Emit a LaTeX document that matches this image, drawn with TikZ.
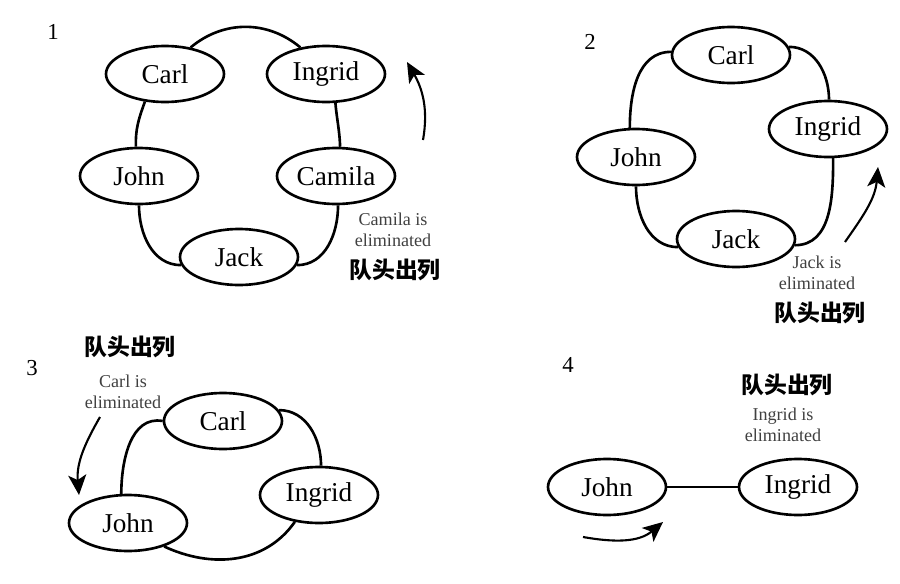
\documentclass[tikz,border=0pt]{standalone}
\usepackage{fontspec}
\setmainfont{Liberation Serif}
\newfontfamily\cjk{Noto Sans CJK SC}
\usetikzlibrary{shapes.geometric,arrows.meta}

\begin{document}
\begin{tikzpicture}[x=0.02cm, y=0.02cm, line width=1.5pt,
  person/.style={draw, ellipse, minimum width=2.36cm, minimum height=1.12cm, inner sep=0pt, font=\fontsize{15.5}{18}\selectfont},
  note/.style={align=center, text=black!75, font=\fontsize{10.3}{11.8}\selectfont},
  head/.style={font=\cjk\bfseries\fontsize{13}{15}\selectfont},
  num/.style={font=\fontsize{13}{15}\selectfont},
  turn/.style={line width=1.2pt, -{Stealth[length=4mm,width=3.6mm,inset=1mm]}}]

\useasboundingbox (0,0) rectangle (900,583);

% 1
\node [num] (n1) at (53,551) {1};
\node [person] (carl1) at (165,509) {Carl};
\node [person] (ingrid1) at (326,509) {Ingrid};
\node [person] (john1) at (139,407) {John};
\node [person] (camila1) at (336,407) {Camila};
\node [person] (jack1) at (239,326) {Jack};
\draw (carl1.46) to[out=40,in=140] (ingrid1.134);
\draw (carl1.234) to[out=250,in=92] (john1.96);
\draw (ingrid1.-72) to[out=-85,in=92] (camila1.82);
\draw (john1.270) to[out=-90,in=180] (jack1.188);
\draw (camila1.-86) to[out=-90,in=0] (jack1.-8);
\coordinate (s1) at (423,443);
\coordinate (e1) at (407,521);
\draw [turn] (s1) to[out=80,in=-60] (e1);
\node [note] (t1) at (393,353) {Camila is\\eliminated};
\node [head] (h1) at (395,313) {队头出列};

% 2
\node [num] (n2) at (590,541) {2};
\node [person] (carl2) at (731,528) {Carl};
\node [person] (ingrid2) at (828,454) {Ingrid};
\node [person] (john2) at (636,426) {John};
\node [person] (jack2) at (736,344) {Jack};
\draw (carl2.177) to[out=180,in=90] (john2.102);
\draw (carl2.8) to[out=0,in=90] (ingrid2.88);
\draw (john2.270) to[out=-90,in=180] (jack2.188);
\draw (jack2.-6) to[out=0,in=-90] (ingrid2.-80);
\coordinate (s2) at (845,341);
\coordinate (e2) at (878,416);
\draw [turn] (s2) to[out=55,in=-95] (e2);
\node [note] (t2) at (817,310) {Jack is\\eliminated};
\node [head] (h2) at (820,270) {队头出列};

% 3
\node [head] (h3) at (130,236) {队头出列};
\node [num] (n3) at (32,215) {3};
\node [note] (t3) at (123,191) {Carl is\\eliminated};
\node [person] (carl3) at (223,162) {Carl};
\node [person] (ingrid3) at (319,88) {Ingrid};
\node [person] (john3) at (128,60) {John};
\draw (carl3.180) to[out=170,in=90] (john3.103);
\draw (carl3.11) to[out=0,in=90] (ingrid3.86);
\draw (john3.-33) to[out=-25,in=-125] (ingrid3.228);
\coordinate (s3) at (100,166);
\coordinate (e3) at (79,88);
\draw [turn] (s3) to[out=-120,in=95] (e3);

% 4
\node [num] (n4) at (568,218) {4};
\node [head] (h4) at (787,198) {队头出列};
\node [note] (t4) at (783,158) {Ingrid is\\eliminated};
\node [person] (john4) at (607,96) {John};
\node [person] (ingrid4) at (798,96) {Ingrid};
\draw (john4) -- (ingrid4);
\coordinate (s4) at (583,46);
\coordinate (e4) at (663,61);
\draw [turn] (s4) to[out=-10,in=-140] (e4);

\end{tikzpicture}
\end{document}
